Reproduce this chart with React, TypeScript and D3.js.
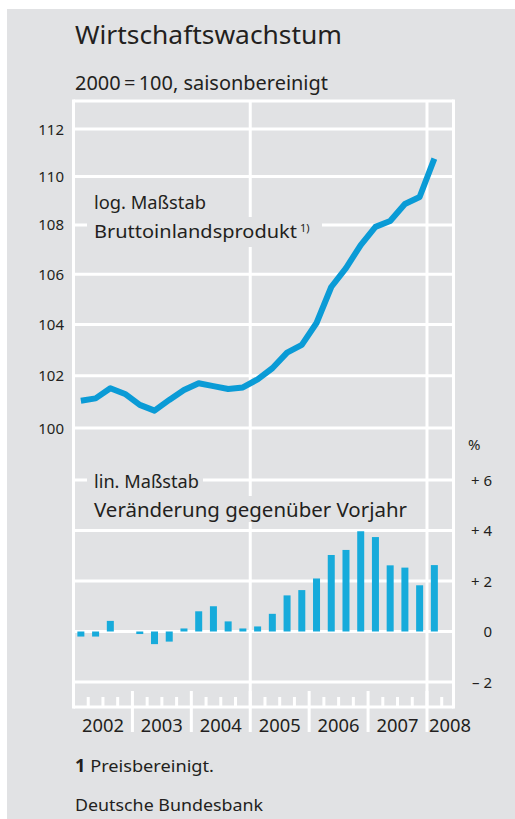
import * as d3 from 'd3';

const quarters = [
  '2002 Q1', '2002 Q2', '2002 Q3', '2002 Q4',
  '2003 Q1', '2003 Q2', '2003 Q3', '2003 Q4',
  '2004 Q1', '2004 Q2', '2004 Q3', '2004 Q4',
  '2005 Q1', '2005 Q2', '2005 Q3', '2005 Q4',
  '2006 Q1', '2006 Q2', '2006 Q3', '2006 Q4',
  '2007 Q1', '2007 Q2', '2007 Q3', '2007 Q4',
  '2008 Q1',
];

// BIP, 2000 = 100, saisonbereinigt (log. Maßstab)
const gdpIndex = [
  101.04, 101.13, 101.52, 101.3,
  100.88, 100.66, 101.07, 101.45,
  101.71, 101.6, 101.49, 101.55,
  101.86, 102.29, 102.9, 103.2,
  104.06, 105.49, 106.25, 107.18,
  107.92, 108.16, 108.86, 109.15,
  110.75,
];

// Veränderung gegenüber Vorjahr in %
const yoyChange = [
  -0.2, -0.2, 0.42, 0.0,
  -0.1, -0.5, -0.4, 0.12,
  0.8, 1.0, 0.4, 0.12,
  0.2, 0.7, 1.43, 1.64,
  2.1, 3.03, 3.23, 3.97,
  3.74, 2.62, 2.53, 1.83,
  2.63,
];

const years = [2002, 2003, 2004, 2005, 2006, 2007, 2008];
const logTicks = [100, 102, 104, 106, 108, 110, 112];
const pctTicks = [6, 4, 2, 0, -2];
const pctLabels = ['+ 6', '+ 4', '+ 2', '0', '\u2013 2'];
const verticalGridYears = [2005, 2008];

const FONT = '"Noto Sans", "Open Sans", sans-serif';
const BG = '#e1e2e4';
const TEXT = '#231f20';
const LINE_COLOR = '#0a9bd6';
const BAR_COLOR = '#17abdb';

const toDecimal = (q: string) => {
  const [y, qq] = q.split(' Q');
  return +y + (+qq - 0.5) / 4;
};

export default function App() {
  const left = 73.5;
  const right = 453.5;
  const top = 101;
  const bottom = 707;

  const x = d3.scaleLinear().domain([2002, 2008.45]).range([left, right]);
  const yLog = d3.scaleLog().domain([100, 112]).range([428, 129]);
  const yPct = d3.scaleLinear().domain([-2, 6]).range([682, 480]);

  const line = d3
    .line<number>()
    .x((_, i) => x(toDecimal(quarters[i])))
    .y((d) => yLog(d));

  const barW = 7;

  const quarterBounds: number[] = [];
  for (let t = 2002.25; t < 2008.45; t += 0.25) {
    if (Math.abs(t - Math.round(t)) > 0.01) quarterBounds.push(t);
  }

  return (
    <div style={{ position: 'absolute', left: 0, top: 0 }}>
      <svg width={515} height={819} style={{ display: 'block', fontFamily: FONT }}>
        <rect x={0} y={0} width={515} height={819} fill="#fff" />
        <rect x={7} y={9} width={508} height={810} fill={BG} />

        <text x={75} y={44} fontSize={25.5} fill={TEXT} textLength={267} lengthAdjust="spacingAndGlyphs">
          Wirtschaftswachstum
        </text>
        <text x={75} y={90} fontSize={19} fill={TEXT} textLength={253} lengthAdjust="spacingAndGlyphs">
          2000{'\u2009'}={'\u2009'}100, saisonbereinigt
        </text>

        {/* frame */}
        <g stroke="#fff" strokeWidth={3} fill="none">
          <line x1={left} x2={right} y1={top} y2={top} />
          <line x1={left} x2={right} y1={bottom} y2={bottom} />
          <line x1={left} x2={left} y1={top - 1.5} y2={bottom + 1.5} />
          <line x1={right} x2={right} y1={top - 1.5} y2={bottom + 1.5} />
        </g>

        {/* gridlines */}
        <g stroke="#fff" strokeWidth={3}>
          {logTicks.map((t) => (
            <line key={'l' + t} x1={left} x2={right} y1={yLog(t)} y2={yLog(t)} />
          ))}
          {pctTicks.map((t) => (
            <line key={'p' + t} x1={left} x2={right} y1={yPct(t)} y2={yPct(t)} />
          ))}
          {verticalGridYears.map((yr) => (
            <line key={'v' + yr} x1={x(yr)} x2={x(yr)} y1={top} y2={bottom} />
          ))}
          {years.slice(1).map((yr) => (
            <line key={'m' + yr} x1={x(yr)} x2={x(yr)} y1={691} y2={732} />
          ))}
          {quarterBounds.map((t) => (
            <line key={'q' + t} x1={x(t)} x2={x(t)} y1={697} y2={bottom} />
          ))}
        </g>

        {/* label backgrounds */}
        <rect x={87} y={217} width={235} height={30} fill={BG} />
        <rect x={87} y={468} width={116} height={26} fill={BG} />
        <rect x={87} y={496} width={328} height={26} fill={BG} />

        <text x={94} y={209} fontSize={18} fill={TEXT} textLength={112} lengthAdjust="spacingAndGlyphs">
          log. Maßstab
        </text>
        <text x={94} y={238} fontSize={18.5} fill={TEXT}>
          <tspan textLength={203} lengthAdjust="spacingAndGlyphs">Bruttoinlandsprodukt</tspan>
          <tspan fontSize={11} x={300} dy={-6}>1)</tspan>
        </text>
        <text x={94} y={488} fontSize={18} fill={TEXT} textLength={105} lengthAdjust="spacingAndGlyphs">
          lin. Maßstab
        </text>
        <text x={94} y={517} fontSize={19} fill={TEXT} textLength={313} lengthAdjust="spacingAndGlyphs">
          Veränderung gegenüber Vorjahr
        </text>

        {/* bars */}
        <g fill={BAR_COLOR}>
          {yoyChange.map((v, i) => {
            const cx = x(toDecimal(quarters[i]));
            const y0 = yPct(0);
            const y1 = yPct(v);
            return (
              <rect
                key={quarters[i]}
                x={cx - barW / 2}
                y={Math.min(y0, y1)}
                width={barW}
                height={Math.abs(y1 - y0)}
              />
            );
          })}
        </g>

        {/* GDP line */}
        <path
          d={line(gdpIndex) || ''}
          fill="none"
          stroke={LINE_COLOR}
          strokeWidth={6}
          strokeLinejoin="round"
        />

        {/* left axis labels */}
        {logTicks.map((t) => (
          <text key={'lt' + t} x={64} y={yLog(t) + 5.5} fontSize={15} textAnchor="end" fill={TEXT}>
            {t}
          </text>
        ))}

        {/* right axis labels */}
        <text x={468} y={450} fontSize={15} fill={TEXT}>%</text>
        {pctTicks.map((t, i) => (
          <text key={'pt' + t} x={492} y={yPct(t) + 5.5} fontSize={15} textAnchor="end" fill={TEXT}>
            {pctLabels[i]}
          </text>
        ))}

        {/* year labels */}
        {years.map((yr) => (
          <text
            key={'y' + yr}
            x={yr === 2008 ? x(yr) + 2 : x(yr + 0.5)}
            y={732}
            fontSize={18}
            textAnchor={yr === 2008 ? 'start' : 'middle'}
            textLength={42}
            lengthAdjust="spacingAndGlyphs"
            fill={TEXT}
          >
            {yr}
          </text>
        ))}

        <text x={75} y={772} fontSize={17} fill={TEXT} textLength={139} lengthAdjust="spacingAndGlyphs">
          <tspan fontWeight="bold">1</tspan> Preisbereinigt.
        </text>
        <text x={75} y={811} fontSize={17} fill={TEXT} textLength={188} lengthAdjust="spacingAndGlyphs">
          Deutsche Bundesbank
        </text>
      </svg>
    </div>
  );
}
